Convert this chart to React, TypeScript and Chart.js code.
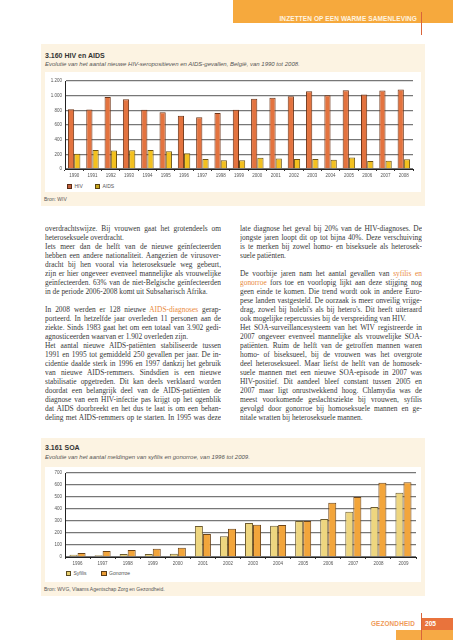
import React, { useEffect, useRef } from 'react';
import Chart from 'chart.js/auto';

// ---------- data ----------
const hivYears = ['1990','1991','1992','1993','1994','1995','1996','1997','1998','1999','2000','2001','2002','2003','2004','2005','2006','2007','2008'];
const hivValues = [814, 810, 982, 952, 809, 773, 727, 705, 764, 809, 957, 970, 992, 1060, 1005, 1073, 1016, 1070, 1084];
const aidsValues = [209, 259, 252, 256, 259, 243, 215, 136, 119, 119, 153, 143, 136, 136, 127, 158, 109, 114, 132];
const hivMax = 1200;
const hivStep = 200;

const soaYears = ['1996','1997','1998','1999','2000','2001','2002','2003','2004','2005','2006','2007','2008','2009'];
const syfilisValues = [19, 14, 25, 25, 28, 258, 172, 283, 261, 300, 317, 378, 417, 536];
const gonorroeValues = [33, 50, 58, 69, 78, 192, 236, 269, 267, 300, 453, 500, 619, 622];
const soaMax = 700;
const soaStep = 100;

const leftLines = [
  'overdrachtswijze. Bij vrouwen gaat het grotendeels om',
  '~heteroseksuele overdracht.',
  'Iets meer dan de helft van de nieuwe geïnfecteerden',
  'hebben een andere nationaliteit. Aangezien de virusover-',
  'dracht bij hen vooral via heteroseksuele weg gebeurt,',
  'zijn er hier ongeveer evenveel mannelijke als vrouwelijke',
  'geïnfecteerden. 63% van de niet-Belgische geïnfecteerden',
  '~in de periode 2006-2008 komt uit Subsaharisch Afrika.',
  '',
  'In 2008 werden er 128 nieuwe *AIDS-diagnoses* gerap-',
  'porteerd. In hetzelfde jaar overleden 11 personen aan de',
  'ziekte. Sinds 1983 gaat het om een totaal van 3.902 gedi-',
  '~agnosticeerden waarvan er 1.902 overleden zijn.',
  'Het aantal nieuwe AIDS-patiënten stabiliseerde tussen',
  '1991 en 1995 tot gemiddeld 250 gevallen per jaar. De in-',
  'cidentie daalde sterk in 1996 en 1997 dankzij het gebruik',
  'van nieuwe AIDS-remmers. Sindsdien is een nieuwe',
  'stabilisatie opgetreden. Dit kan deels verklaard worden',
  'doordat een belangrijk deel van de AIDS-patiënten de',
  'diagnose van een HIV-infectie pas krijgt op het ogenblik',
  'dat AIDS doorbreekt en het dus te laat is om een behan-',
  'deling met AIDS-remmers op te starten. In 1995 was deze',
];
const rightLines = [
  'late diagnose het geval bij 20% van de HIV-diagnoses. De',
  'jongste jaren loopt dit op tot bijna 40%. Deze verschuiving',
  'is te merken bij zowel homo- en biseksuele als heterosek-',
  '~suele patiënten.',
  '',
  'De voorbije jaren nam het aantal gevallen van *syfilis en*',
  '*gonorroe* fors toe en voorlopig lijkt aan deze stijging nog',
  'geen einde te komen. Die trend wordt ook in andere Euro-',
  'pese landen vastgesteld. De oorzaak is meer onveilig vrijge-',
  "drag, zowel bij holebi's als bij hetero's. Dit heeft uiteraard",
  '~ook mogelijke repercussies bij de verspreiding van HIV.',
  'Het SOA-surveillancesysteem van het WIV registreerde in',
  '2007 ongeveer evenveel mannelijke als vrouwelijke SOA-',
  'patiënten. Ruim de helft van de getroffen mannen waren',
  'homo- of biseksueel, bij de vrouwen was het overgrote',
  'deel heteroseksueel. Maar liefst de helft van de homosek-',
  'suele mannen met een nieuwe SOA-episode in 2007 was',
  'HIV-positief. Dit aandeel bleef constant tussen 2005 en',
  '2007 maar ligt onrustwekkend hoog. Chlamydia was de',
  'meest voorkomende geslachtsziekte bij vrouwen, syfilis',
  'gevolgd door gonorroe bij homoseksuele mannen en ge-',
  '~nitale wratten bij heteroseksuele mannen.',
];

// ---------- styles ----------
const SANS = '"Liberation Sans", Arial, sans-serif';
const SERIF = '"Liberation Serif", "DejaVu Serif", serif';
const CREAM = '#fcf3e2';
const ORANGE_TEXT = '#e98a3c';
const LH = 9.05;

const fmt = (v: number) => {
  const s = String(v);
  return s.length > 3 ? s.slice(0, s.length - 3) + '.' + s.slice(-3) : s;
};

function makeOptions(max: number, step: number, padRight: number, padTop: number, xHeight: number) {
  return {
    responsive: false,
    maintainAspectRatio: false,
    animation: false as const,
    layout: { padding: { left: 0, right: padRight, top: padTop, bottom: 0 } },
    plugins: { legend: { display: false }, tooltip: { enabled: false } },
    scales: {
      x: {
        grid: { display: true, drawOnChartArea: false, drawTicks: true, tickLength: 2, color: '#333', offset: true },
        border: { display: true, color: '#222', width: 1 },
        ticks: { font: { family: SANS, size: 4.5 }, color: '#555', padding: 2, maxRotation: 0, autoSkip: false },
        afterFit: (s: any) => { s.height = xHeight; },
      },
      y: {
        min: 0,
        max,
        ticks: { stepSize: step, font: { family: SANS, size: 4.5 }, color: '#555', padding: 3, callback: (v: any) => fmt(Number(v)) },
        grid: { color: '#777', lineWidth: 1.3, drawTicks: false },
        border: { display: true, color: '#222', width: 1 },
        afterFit: (s: any) => { s.width = 20; },
      },
    },
  };
}

function BarChart(props: {
  labels: string[];
  series: { label: string; data: number[]; bg: string; border: string }[];
  max: number; step: number; width: number; height: number; padRight: number; padTop: number; xHeight: number; catPct: number;
}) {
  const ref = useRef<HTMLCanvasElement>(null);
  useEffect(() => {
    if (!ref.current) return;
    const chart = new Chart(ref.current, {
      type: 'bar',
      data: {
        labels: props.labels,
        datasets: props.series.map((s) => ({
          label: s.label,
          data: s.data,
          backgroundColor: s.bg,
          borderColor: s.border,
          borderWidth: 1,
          borderSkipped: 'bottom',
          categoryPercentage: props.catPct,
          barPercentage: 1,
        })),
      },
      options: makeOptions(props.max, props.step, props.padRight, props.padTop, props.xHeight) as any,
    });
    return () => chart.destroy();
  }, []);
  return <canvas ref={ref} width={props.width} height={props.height} style={{ width: props.width, height: props.height, display: 'block' }} />;
}

function TextLine({ text }: { text: string }) {
  if (text === '') return <div style={{ height: LH }} />;
  const last = text.startsWith('~');
  const t = last ? text.slice(1) : text;
  const parts = t.split('*');
  return (
    <div style={{ height: LH, lineHeight: LH + 'px', textAlign: 'justify', textAlignLast: last ? 'left' : 'justify', overflow: 'hidden' } as any}>
      {parts.map((p, i) => (i % 2 ? <span key={i} style={{ color: ORANGE_TEXT }}>{p}</span> : <span key={i}>{p}</span>))}
    </div>
  );
}

function LegendItem({ x, y, color, border, label }: { x: number; y: number; color: string; border: string; label: string }) {
  return (
    <>
      <div style={{ position: 'absolute', left: x, top: y - 2.5, width: 3.5, height: 3.5, background: color, border: '0.8px solid ' + border }} />
      <div style={{ position: 'absolute', left: x + 8, top: y - 4, fontSize: 5, lineHeight: '8px', fontFamily: SANS, color: '#555' }}>{label}</div>
    </>
  );
}

const abs = (l: number, t: number, w: number, h: number, extra: any = {}) => ({ position: 'absolute' as const, left: l, top: t, width: w, height: h, ...extra });

export default function App() {
  return (
    <div style={{ position: 'absolute', left: 0, top: 0, width: 453, height: 640, background: '#fff', overflow: 'hidden', fontFamily: SANS }}>
      {/* header */}
      <div style={abs(233, 0, 220, 23, { background: '#f6a93d' })} />
      <div style={{ position: 'absolute', right: 36, top: 15, fontSize: 6.5, lineHeight: '8px', fontWeight: 700, color: '#fff4e0', letterSpacing: 0.1, whiteSpace: 'nowrap' }}>
        INZETTEN OP EEN WARME SAMENLEVING
      </div>
      <div style={abs(420.5, 12, 1, 23, { background: '#d9643a' })} />

      {/* panel 1 */}
      <div style={abs(41, 44, 384, 162, { background: CREAM })} />
      <div style={{ position: 'absolute', left: 45, top: 51, fontSize: 7, lineHeight: '9px', fontWeight: 700, color: '#333', whiteSpace: 'nowrap' }}>3.160 HIV en AIDS</div>
      <div style={{ position: 'absolute', left: 45, top: 60, fontSize: 6, lineHeight: '8px', fontStyle: 'italic', color: '#555', whiteSpace: 'nowrap' }}>
        Evolutie van het aantal nieuwe HIV-seropositieven en AIDS-gevallen, België, van 1990 tot 2008.
      </div>
      <div style={abs(45, 72, 376, 120, { background: '#fff' })} />
      <div style={abs(45, 72, 376, 109)}>
        <BarChart
          labels={hivYears}
          series={[
            { label: 'HIV', data: hivValues, bg: '#e3733f', border: '#6e3518' },
            { label: 'AIDS', data: aidsValues, bg: '#f3c11f', border: '#6e5410' },
          ]}
          max={hivMax} step={hivStep} width={376} height={109} padRight={8} padTop={9} xHeight={12} catPct={0.68}
        />
      </div>
      <LegendItem x={66.5} y={186} color="#c2623f" border="#5a2c14" label="HIV" />
      <LegendItem x={94.5} y={186} color="#c9a81e" border="#5a4510" label="AIDS" />
      <div style={{ position: 'absolute', left: 44, top: 195, fontSize: 5, lineHeight: '8px', color: '#555' }}>Bron: WIV</div>

      {/* body text */}
      <div style={{ position: 'absolute', left: 45, top: 223.5, width: 176, fontFamily: SERIF, fontSize: 7.4, color: '#383838' }}>
        {leftLines.map((l, i) => <TextLine key={i} text={l} />)}
      </div>
      <div style={{ position: 'absolute', left: 240, top: 223.5, width: 182, fontFamily: SERIF, fontSize: 7.4, color: '#383838' }}>
        {rightLines.map((l, i) => <TextLine key={i} text={l} />)}
      </div>

      {/* panel 2 */}
      <div style={abs(41, 438, 384, 158, { background: CREAM })} />
      <div style={{ position: 'absolute', left: 45, top: 443, fontSize: 7, lineHeight: '9px', fontWeight: 700, color: '#333', whiteSpace: 'nowrap' }}>3.161 SOA</div>
      <div style={{ position: 'absolute', left: 45, top: 453, fontSize: 6, lineHeight: '8px', fontStyle: 'italic', color: '#555', whiteSpace: 'nowrap' }}>
        Evolutie van het aantal meldingen van syfilis en gonorroe, van 1996 tot 2009.
      </div>
      <div style={abs(45, 467, 376, 115, { background: '#fff' })} />
      <div style={abs(45, 467, 376, 101)}>
        <BarChart
          labels={soaYears}
          series={[
            { label: 'Syfilis', data: syfilisValues, bg: '#eed67f', border: '#6e5d30' },
            { label: 'Gonorroe', data: gonorroeValues, bg: '#f2a53b', border: '#6e4518' },
          ]}
          max={soaMax} step={soaStep} width={376} height={101} padRight={5} padTop={6} xHeight={11} catPct={0.64}
        />
      </div>
      <LegendItem x={65.5} y={573} color="#e8d070" border="#5a4a20" label="Syfilis" />
      <LegendItem x={101} y={573} color="#eb9c35" border="#5a3a14" label="Gonorroe" />
      <div style={{ position: 'absolute', left: 44, top: 585, fontSize: 5, lineHeight: '8px', color: '#555', whiteSpace: 'nowrap' }}>
        Bron: WVG, Vlaams Agentschap Zorg en Gezondheid.
      </div>

      {/* footer */}
      <div style={{ position: 'absolute', right: 38, top: 619.5, fontSize: 6.4, lineHeight: '8px', fontWeight: 700, color: '#ef9a58', letterSpacing: 0.15, whiteSpace: 'nowrap' }}>GEZONDHEID</div>
      <div style={abs(421, 618, 32, 11.5, { background: '#e9733c' })} />
      <div style={{ position: 'absolute', left: 425, top: 619.5, fontSize: 6.6, lineHeight: '8px', fontWeight: 700, color: '#fff', whiteSpace: 'nowrap' }}>205</div>
      <div style={abs(396, 629.5, 57, 10.5, { background: '#f6aa45' })} />
      <div style={abs(420.5, 613, 1, 27, { background: '#d9643a' })} />
    </div>
  );
}
